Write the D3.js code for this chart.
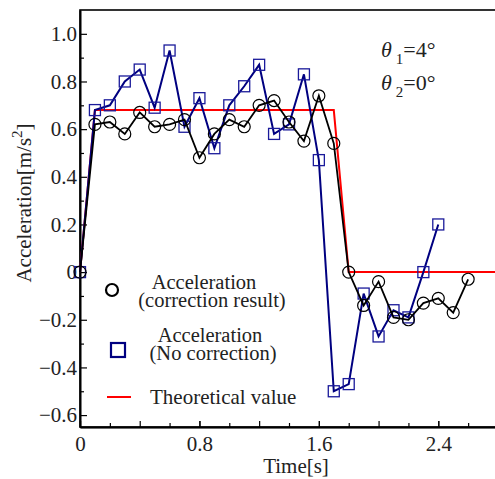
<!DOCTYPE html>
<html>
<head>
<meta charset="utf-8">
<script src="https://cdn.jsdelivr.net/npm/d3@7"></script>
<style>
  body { margin: 0; background: #fff; }
  svg { display: block; }
  svg text { font-family: "Liberation Serif", "Times New Roman", Times, serif; }
</style>
</head>
<body>
<svg id="chart"></svg>
<script>
// time steps (s)
const times = [0, 0.1, 0.2, 0.3, 0.4, 0.5, 0.6, 0.7, 0.8, 0.9, 1.0, 1.1, 1.2, 1.3,
  1.4, 1.5, 1.6, 1.7, 1.8, 1.9, 2.0, 2.1, 2.2, 2.3, 2.4, 2.5, 2.6];

// acceleration, correction result
const corrected = [0, 0.62, 0.63, 0.58, 0.67, 0.61, 0.62, 0.64, 0.48, 0.58, 0.64, 0.61, 0.70, 0.72,
  0.63, 0.55, 0.74, 0.54, 0, -0.14, -0.04, -0.19, -0.20, -0.13, -0.11, -0.17, -0.03];

// acceleration, no correction (ends at 2.4 s)
const uncorrected = [0, 0.68, 0.70, 0.80, 0.85, 0.69, 0.93, 0.61, 0.73, 0.52, 0.70, 0.78, 0.87, 0.58,
  0.62, 0.83, 0.47, -0.50, -0.47, -0.09, -0.27, -0.16, -0.19, 0, 0.20];

// theoretical value
const theoryT = [0, 0.1, 1.7, 1.8, 2.8];
const theoryA = [0, 0.68, 0.68, 0, 0];

const xLabelTicks = [0, 0.8, 1.6, 2.4];
const xMajorTicks = [0, 0.4, 0.8, 1.2, 1.6, 2.0, 2.4, 2.8];
const xMinorTicks = [0.2, 0.6, 1.0, 1.4, 1.8, 2.2, 2.6];
const yLabelTicks = [-0.6, -0.4, -0.2, 0, 0.2, 0.4, 0.6, 0.8, 1.0];
const yMinorTicks = [-0.5, -0.3, -0.1, 0.1, 0.3, 0.5, 0.7, 0.9];

const serif = '"Liberation Serif", "Times New Roman", Times, serif';

const width = 495, height = 479;
const margin = { top: 10, right: -3, bottom: 52, left: 80 };

const svg = d3.select('#chart')
  .attr('width', width)
  .attr('height', height);

const x = d3.scaleLinear()
  .domain([0, 2.8])
  .range([margin.left, width - margin.right]);

const y = d3.scaleLinear()
  .domain([-0.65, 1.1])
  .range([height - margin.bottom, margin.top]);

const fmtY = v => v === 0 ? '0' : d3.format('.1f')(v).replace('-', '\u2212');
const fmtX = v => v === 0 ? '0' : d3.format('.1f')(v);

// frame
svg.append('rect')
  .attr('x', x(0)).attr('y', y(1.1))
  .attr('width', x(2.8) - x(0)).attr('height', y(-0.65) - y(1.1))
  .attr('fill', 'none').attr('stroke', '#000').attr('stroke-width', 1.6);

// x axis
const gx = svg.append('g').attr('transform', `translate(0,${y(-0.65)})`);
gx.append('g')
  .call(d3.axisBottom(x).tickValues(xMinorTicks).tickSizeInner(-4).tickSizeOuter(0).tickFormat(''));
gx.append('g')
  .call(d3.axisBottom(x).tickValues(xMajorTicks).tickSizeInner(-6).tickSizeOuter(0).tickFormat(''));
gx.append('g')
  .call(d3.axisBottom(x).tickValues(xLabelTicks).tickSizeInner(-6).tickSizeOuter(0).tickPadding(9).tickFormat(fmtX));

// y axis
const gy = svg.append('g').attr('transform', `translate(${x(0)},0)`);
gy.append('g')
  .call(d3.axisLeft(y).tickValues(yMinorTicks).tickSizeInner(-4).tickSizeOuter(0).tickFormat(''));
gy.append('g')
  .call(d3.axisLeft(y).tickValues(yLabelTicks).tickSizeInner(-7).tickSizeOuter(0).tickPadding(3).tickFormat(fmtY));

svg.selectAll('g').attr('font-family', serif);
svg.selectAll('.domain').attr('stroke', '#000').attr('stroke-width', 1.6);
svg.selectAll('.tick line').attr('stroke', '#000').attr('stroke-width', 1.2);
svg.selectAll('.tick text')
  .attr('font-family', serif)
  .attr('font-size', 21)
  .attr('fill', '#222');

// axis titles
svg.append('text')
  .attr('x', 296).attr('y', 473)
  .attr('text-anchor', 'middle')
  .attr('font-family', serif)
  .attr('font-size', 21).attr('fill', '#222')
  .text('Time[s]');

const yTitle = svg.append('text')
  .attr('transform', 'translate(31,203) rotate(-90)')
  .attr('text-anchor', 'middle')
  .attr('font-family', serif)
  .attr('font-size', 21).attr('fill', '#222');
yTitle.append('tspan').text('Acceleration[m/s');
yTitle.append('tspan').attr('font-size', 15).attr('dy', -9).text('2');
yTitle.append('tspan').attr('dy', 9).text(']');

// theoretical line
const theory = theoryT.map((t, i) => [t, theoryA[i]]);
const line = d3.line().x(d => x(d[0])).y(d => y(d[1]));

svg.append('path')
  .datum(theory)
  .attr('d', line)
  .attr('fill', 'none').attr('stroke', '#ff0000').attr('stroke-width', 2);

// no correction series
const blue = uncorrected.map((v, i) => [times[i], v]);
svg.append('path')
  .datum(blue)
  .attr('d', line)
  .attr('fill', 'none').attr('stroke', '#000080').attr('stroke-width', 2);

svg.selectAll('.sq')
  .data(blue)
  .enter().append('rect')
  .attr('class', 'sq')
  .attr('x', d => x(d[0]) - 5.5)
  .attr('y', d => y(d[1]) - 5.5)
  .attr('width', 11).attr('height', 11)
  .attr('fill', 'none').attr('stroke', '#1a1a9a').attr('stroke-width', 1.3);

// correction result series
const black = corrected.map((v, i) => [times[i], v]);
svg.append('path')
  .datum(black)
  .attr('d', line)
  .attr('fill', 'none').attr('stroke', '#000').attr('stroke-width', 1.8);

svg.selectAll('.circ')
  .data(black)
  .enter().append('circle')
  .attr('class', 'circ')
  .attr('cx', d => x(d[0]))
  .attr('cy', d => y(d[1]))
  .attr('r', 6)
  .attr('fill', 'none').attr('stroke', '#000').attr('stroke-width', 1.2);

// legend
svg.append('circle')
  .attr('cx', 112).attr('cy', 290).attr('r', 6)
  .attr('fill', 'none').attr('stroke', '#000').attr('stroke-width', 2.2);
svg.append('rect')
  .attr('x', 111).attr('y', 343).attr('width', 14).attr('height', 14)
  .attr('fill', 'none').attr('stroke', '#000080').attr('stroke-width', 2.2);
svg.append('line')
  .attr('x1', 107).attr('x2', 131).attr('y1', 397).attr('y2', 397)
  .attr('stroke', '#ff0000').attr('stroke-width', 2);

const legendText = [
  { lines: ['Acceleration', '(correction result)'], xs: [204, 212], y: 289 },
  { lines: ['Acceleration', '(No correction)'], xs: [210, 213], y: 342 }
];
legendText.forEach(item => {
  const t = svg.append('text')
    .attr('y', item.y)
    .attr('text-anchor', 'middle')
    .attr('font-family', serif)
    .attr('font-size', 20.5).attr('fill', '#222');
  item.lines.forEach((s, i) => {
    t.append('tspan')
      .attr('x', item.xs[i])
      .attr('dy', i === 0 ? 0 : 18)
      .text(s);
  });
});

svg.append('text')
  .attr('x', 150).attr('y', 404)
  .attr('font-family', serif)
  .attr('font-size', 21).attr('fill', '#222')
  .text('Theoretical value');

// angle annotation
const angles = [{ sub: '1', val: '=4°', y: 57 }, { sub: '2', val: '=0°', y: 90 }];
angles.forEach(a => {
  const t = svg.append('text')
    .attr('x', 381).attr('y', a.y)
    .attr('font-family', serif)
    .attr('font-size', 22).attr('fill', '#222');
  t.append('tspan').attr('font-style', 'italic').text('θ');
  t.append('tspan').attr('font-size', 15).attr('dx', 4).attr('dy', 7).text(a.sub);
  t.append('tspan').attr('dy', -7).text(a.val);
});
</script>
</body>
</html>
